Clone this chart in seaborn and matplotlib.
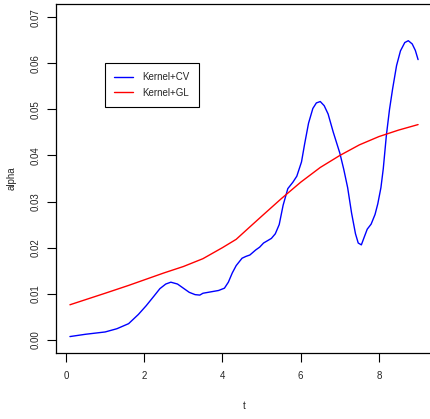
import matplotlib
matplotlib.use("Agg")
import matplotlib.pyplot as plt
import seaborn as sns

# Kernel+CV estimate
t_cv = [0.1, 0.5, 1.0, 1.3, 1.6, 1.85, 2.05, 2.25, 2.4, 2.55, 2.68, 2.85, 3.0,
        3.15, 3.3, 3.42, 3.5, 3.7, 3.9, 4.05, 4.15, 4.25, 4.35, 4.5, 4.6, 4.7,
        4.85, 4.95, 5.05, 5.15, 5.25, 5.35, 5.45, 5.55, 5.67, 5.8, 5.9, 6.02,
        6.1, 6.2, 6.31, 6.4, 6.5, 6.6, 6.7, 6.83, 7.0, 7.1, 7.2, 7.3, 7.4,
        7.47, 7.55, 7.62, 7.7, 7.8, 7.9, 7.97, 8.05, 8.11, 8.19, 8.27, 8.35,
        8.45, 8.55, 8.66, 8.75, 8.85, 8.93, 9.0]
alpha_cv = [0.0007, 0.0012, 0.0017, 0.0024, 0.0035, 0.0055, 0.0074, 0.0095,
            0.0111, 0.0121, 0.0125, 0.0121, 0.0112, 0.0103, 0.0098, 0.0097,
            0.0101, 0.0104, 0.0107, 0.0112, 0.0125, 0.0145, 0.0161, 0.0177,
            0.0181, 0.0184, 0.0195, 0.0201, 0.0210, 0.0215, 0.0220, 0.0230,
            0.0250, 0.0292, 0.0328, 0.0342, 0.0355, 0.0386, 0.0425, 0.0470,
            0.0502, 0.0514, 0.0517, 0.0508, 0.0490, 0.0451, 0.0405, 0.0370,
            0.0330, 0.0275, 0.0230, 0.0210, 0.0206, 0.0222, 0.0240, 0.0251,
            0.0272, 0.0295, 0.0330, 0.0371, 0.0444, 0.0500, 0.0545, 0.0595,
            0.0627, 0.0645, 0.0649, 0.0642, 0.0628, 0.0608]

# Kernel+GL estimate
t_gl = [0.1, 1.0, 1.6, 2.0, 2.5, 3.0, 3.5, 4.0, 4.35, 4.7, 5.0, 5.5, 6.0,
        6.5, 7.0, 7.5, 8.0, 8.5, 9.0]
alpha_gl = [0.0076, 0.0101, 0.0118, 0.0130, 0.0145, 0.0159, 0.0176, 0.0200,
            0.0218, 0.0245, 0.0268, 0.0306, 0.0342, 0.0374, 0.0400, 0.0423,
            0.0441, 0.0455, 0.0467]

x_ticks = [0, 2, 4, 6, 8]
y_ticks = [0.00, 0.01, 0.02, 0.03, 0.04, 0.05, 0.06, 0.07]

sns.set_style("white")
plt.rcParams['font.family'] = ['Liberation Sans', 'DejaVu Sans']

fig = plt.figure(figsize=(4.3, 4.19), dpi=100)
ax = fig.add_axes([56 / 430, 1 - 352.7 / 419, 376 / 430, 348.4 / 419])

sns.lineplot(x=t_cv, y=alpha_cv, color='#0000FF', linewidth=1.0,
             label='Kernel+CV', ax=ax)
sns.lineplot(x=t_gl, y=alpha_gl, color='#FF0000', linewidth=1.0,
             label='Kernel+GL', ax=ax)

ax.set_xlim(-0.256, 9.356)
ax.set_ylim(-0.0028, 0.0728)
ax.set_xticks(x_ticks)
ax.set_xticklabels([str(v) for v in x_ticks])
ax.set_yticks(y_ticks)
ax.set_yticklabels([f"{v:.2f}" for v in y_ticks], rotation=90, va='center')
ax.tick_params(axis='both', direction='out', length=6.5, width=0.8,
               color='black', labelsize=7, bottom=True, left=True)
ax.tick_params(axis='x', pad=7)
ax.tick_params(axis='y', pad=4.5)

for side in ax.spines.values():
    side.set_visible(True)
    side.set_color('black')
    side.set_linewidth(0.9)

ax.set_xlabel('t', fontsize=7, labelpad=14)
ax.set_ylabel('alpha', fontsize=7, labelpad=10)

leg = ax.legend(loc='upper left', bbox_to_anchor=(105 / 430, 1 - 63 / 419),
                bbox_transform=fig.transFigure, borderaxespad=0,
                fontsize=7, handlelength=1.95, handletextpad=1.0,
                borderpad=0.93, labelspacing=0.57, fancybox=False,
                framealpha=1, edgecolor='black')
leg.get_frame().set_linewidth(0.8)

fig.savefig('out.png', dpi=100)
